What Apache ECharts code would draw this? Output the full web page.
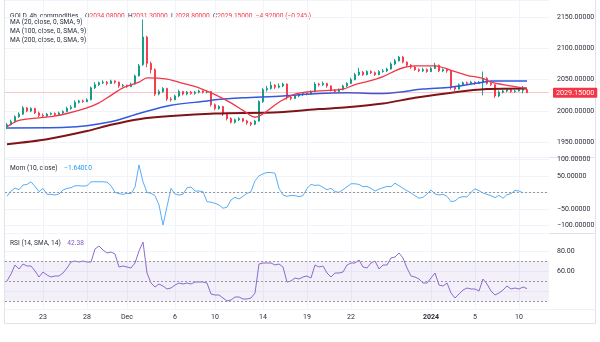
<!DOCTYPE html>
<html><head><meta charset="utf-8">
<script src="https://cdn.jsdelivr.net/npm/echarts@6/dist/echarts.min.js"></script>
<style>html,body{margin:0;padding:0;background:#fff}#c{width:600px;height:342px}</style>
</head><body><div id="c"></div>
<script>
// ---------- DATA ----------
// 4h candles: [open, close, low, high]
const candles = [
[1975,1978,1971,1981],[1978,1983,1977,1986],[1983,1991,1982,1993],[1991,1995,1989,1998],[1995,2005,1994,2008],
[2005,2000,1998,2006],[2000,2004,1998,2006],[2004,1997,1995,2005],[1997,1993,1990,1999],[1993,1992,1990,1996],
[1992,1995,1990,1997],[1995,1996,1993,1998],[1996,1994,1992,1998],[1994,1997,1993,1999],[1997,1999,1995,2001],
[1999,2004,1998,2007],[2004,2006,2002,2009],[2006,2014,2005,2017],[2014,2016,2012,2018],[2016,2015,2013,2018],
[2015,2018,2014,2020],[2018,2037,2017,2039],[2037,2042,2035,2046],[2042,2045,2040,2047],[2045,2046,2043,2049],
[2046,2044,2041,2048],[2044,2048,2043,2050],[2048,2046,2043,2049],[2046,2040,2037,2047],[2040,2041,2038,2043],
[2041,2039,2037,2042],[2039,2043,2038,2045],[2043,2056,2042,2058],[2056,2072,2055,2075],[2074,2118,2072,2146],
[2118,2076,2070,2120],[2076,2066,2060,2079],[2066,2027,2024,2068],[2027,2031,2025,2034],[2031,2036,2029,2038],
[2036,2019,2016,2037],[2019,2018,2015,2022],[2018,2024,2017,2026],[2024,2031,2022,2034],[2031,2027,2025,2032],
[2027,2030,2025,2032],[2030,2028,2026,2032],[2028,2030,2026,2032],[2030,2032,2028,2034],[2032,2030,2028,2033],
[2030,2031,2028,2033],[2031,2010,2007,2032],[2010,2004,2001,2012],[2004,2007,2002,2009],[2007,1995,1992,2008],
[1995,1988,1985,1997],[1988,1982,1980,1990],[1982,1986,1980,1988],[1986,1988,1984,1990],[1988,1984,1982,1989],
[1984,1981,1978,1986],[1981,1979,1976,1983],[1979,1984,1978,1986],[1984,2015,1983,2017],[2015,2034,2013,2037],
[2034,2036,2031,2040],[2036,2041,2034,2047],[2041,2038,2035,2043],[2038,2040,2036,2044],[2040,2043,2038,2045],
[2043,2022,2018,2044],[2022,2020,2017,2024],[2020,2024,2019,2026],[2024,2026,2022,2028],[2026,2028,2024,2030],
[2028,2027,2025,2030],[2027,2031,2026,2033],[2031,2043,2030,2046],[2043,2042,2039,2045],[2042,2044,2040,2047],
[2044,2040,2037,2045],[2040,2033,2031,2041],[2033,2031,2029,2035],[2031,2034,2030,2036],[2034,2040,2033,2042],
[2040,2044,2038,2046],[2044,2050,2043,2053],[2050,2058,2049,2061],[2058,2062,2056,2069],[2062,2058,2056,2064],
[2058,2063,2057,2065],[2063,2061,2059,2065],[2061,2058,2056,2063],[2058,2063,2057,2065],[2063,2064,2061,2067],
[2064,2067,2062,2069],[2067,2075,2066,2078],[2075,2080,2073,2083],[2080,2086,2079,2088],[2086,2078,2076,2088],
[2078,2073,2070,2079],[2073,2070,2067,2075],[2070,2066,2064,2072],[2066,2064,2062,2068],[2064,2066,2062,2069],
[2066,2063,2061,2068],[2063,2068,2062,2070],[2068,2073,2067,2077],[2073,2064,2062,2074],[2064,2066,2062,2068],
[2066,2064,2061,2067],[2064,2038,2034,2065],[2038,2035,2032,2040],[2035,2042,2034,2044],[2042,2045,2040,2047],
[2045,2044,2042,2047],[2044,2046,2043,2048],[2046,2044,2042,2047],[2044,2046,2043,2048],[2045,2052,2025,2063],
[2052,2044,2042,2054],[2044,2042,2040,2046],[2042,2024,2021,2043],[2024,2030,2022,2033],[2030,2032,2028,2034],
[2032,2034,2030,2036],[2034,2031,2029,2035],[2031,2032,2029,2034],[2032,2034,2031,2036],[2033,2034.08,2028,2040],
[2034.08,2029.15,2028.8,2035]
];
// moving averages: [bar index, value]
const ma20 = [[0,1975],[3,1985],[8,1989],[11,1991],[15,1996],[20,2005],[23,2013],[26,2025],[29,2037],[33,2046],[35,2053],[40,2051],[44,2044],[48,2037],[52,2026],[56,2013],[59,2001],[62,1990],[68,2014],[72,2027],[78,2032],[84,2035],[87,2042],[90,2047],[94,2055],[97,2064],[99,2069],[102,2072],[107,2072],[111,2065],[115,2057],[119,2052],[121,2046],[125,2041],[130,2036]];
const ma100 = [[0,1973],[15,1974],[26,1983],[33,1996],[41,2009],[50,2016],[52,2018],[59,2021],[69,2024],[78,2028],[85,2029],[94,2028],[98,2030],[104,2035],[111,2038],[119,2046],[121,2048],[130,2048]];
const ma200 = [[0,1947],[10,1955],[20,1968],[26,1978],[33,1987],[41,1992],[52,1996],[68,1998],[78,2003],[85,2006],[94,2012],[102,2021],[112,2030],[120,2035],[130,2036]];
// Momentum (10, close), one value per bar
const mom = [-12,4,13,8,22,24,32,18,2,12,-6,-6,-8,-5,7,12,14,20,20,19,20,32,32,32,32,31,20,0,-4,-6,-3,-4,16,83,32,0,-3,-10,-38,-99,-43,12,-5,-8,-6,14,16,4,4,2,
 -28,-30,-33,-38,-48,-45,-23,-15,-20,-12,-3,2,35,50,56,60,60,58,12,-8,-12,-9,-10,-13,-10,12,24,21,22,15,8,12,2,0,8,17,26,26,24,17,18,12,4,10,14,18,17,28,20,12,
 5,-2,-10,-18,-15,-5,7,-5,-8,-6,-12,-28,-26,-16,-13,-14,0,11,5,-2,-6,-10,-16,-9,-18,-7,-4,6,4,-1.64];
// RSI (14), one value per bar
const rsi = [50,57,66,62,67,65,65,60,54,59,56,54,55,55,58,63,69,70,69,70,69,69,82,85,81,78,79,77,64,65,64,63,68,80,89,58,48,44,47,45,42,43,46,48,47,48,47,49,49,49,
 48,37,36,36,33,30,31,34,34,32,32,33,38,67,68,68,68,66,67,64,49,50,53,52,54,55,53,66,64,65,58,54,58,58,59,66,68,68,71,64,63,68,70,62,66,66,73,74,78,73,
 63,55,54,52,48,48,53,58,46,45,48,38,33,37,41,43,42,42,40,52,47,40,36,38,41,45,42,43,42,44,42.38];
// time-axis tick labels (bar index -> text)
const tickIndex = [9,20,30,42,52,64,75,86,106,117,128];
const tickText  = ['23','28','Dec','6','10','14','19','22','2024','5','10'];
// legend texts
const symbolText = 'GOLD, 4h, commodities';
const ohlcNames = ['O','H','L','C'];
const ohlcValues = ['2034.08000','2031.30000','2028.80000','2029.15000'];
const changeText = '\u22124.92000 (\u22120.24%)';
const maNames = ['MA (20, close, 0, SMA, 9)','MA (100, close, 0, SMA, 9)','MA (200, close, 0, SMA, 9)'];
const momName = 'Mom (10, close)';
const rsiName = 'RSI (14, SMA, 14)';
const rsiBands = [70, 50, 30];

// ---------- CHART ----------
const N = 136; // number of bar slots incl. right margin
const cats = Array.from({length: N}, (_, i) => String(i));
const tickMap = {};
tickIndex.forEach((k, j) => tickMap[k] = tickText[j]);
const isTick = (i) => tickMap[i] !== undefined;
const lastClose = candles[candles.length - 1][1];
const lastMom = mom[mom.length - 1];
const lastRsi = rsi[rsi.length - 1];
const FONT = 'Roboto';
const FS = 6.6;
const txt = '#2a2e39';
const neg = (v, d) => (v < 0 ? '\u2212' : '') + Math.abs(v).toFixed(d);

const chart = echarts.init(document.getElementById('c'), null, {renderer: 'canvas'});
const gridL = 5, gridR = 51;
const grids = [
  {left: gridL, right: gridR, top: 0, height: 157},
  {left: gridL, right: gridR, top: 157, height: 76},
  {left: gridL, right: gridR, top: 233, height: 76}
];
function xAx(g, showLabels) {
  return {
    gridIndex: g, type: 'category', data: cats, boundaryGap: true,
    axisLine: {show: false}, axisTick: {show: false},
    axisLabel: showLabels ? {
      show: true, interval: (i) => isTick(i), fontSize: FS + 0.4, color: txt, fontFamily: FONT, margin: 5,
      formatter: (v, i) => { const t = tickMap[+v]; return t === '2024' ? '{b|2024}' : (t || ''); },
      rich: {b: {fontWeight: 'bold', fontSize: FS + 0.4, color: txt, fontFamily: FONT}}
    } : {show: false},
    splitLine: {show: true, interval: (i) => isTick(i), alignWithLabel: true, lineStyle: {color: '#f0f3fa', width: 1}}
  };
}
function yAx(g, min, max, split, fmt) {
  return {
    gridIndex: g, type: 'value', position: 'right', min: min, max: max, splitNumber: split, scale: true,
    axisLine: {show: false}, axisTick: {show: false},
    axisLabel: {fontSize: FS + 0.4, color: txt, fontFamily: FONT, margin: 8, showMinLabel: false, showMaxLabel: false, formatter: fmt},
    splitLine: {lineStyle: {color: '#f0f3fa', width: 1}}
  };
}
const badge = (bg, text) => ({
  show: true, position: 'end', distance: 4, formatter: text, backgroundColor: bg, color: '#fff',
  fontSize: FS + 0.6, fontFamily: FONT, padding: [2, 3, 1, 3], borderRadius: 1
});

const option = {
  animation: false,
  backgroundColor: '#fff',
  grid: grids,
  xAxis: [xAx(0, false), xAx(1, false), xAx(2, true)],
  yAxis: [
    yAx(0, 1926.6, 2177.1, 5, (v) => v.toFixed(5)),
    yAx(1, -123, 107, 5, (v) => v === 0 ? '' : neg(v, 5)),
    yAx(2, 22, 98, 4, (v) => v === 40 ? '' : v.toFixed(2))
  ],
  series: [
    {
      type: 'candlestick', xAxisIndex: 0, yAxisIndex: 0, data: candles, barWidth: 2.4,
      itemStyle: {color: '#089981', color0: '#f23645', borderColor: '#089981', borderColor0: '#f23645', borderWidth: 0.9},
      markLine: {
        silent: true, symbol: ['none', 'none'],
        lineStyle: {color: 'rgba(242,54,69,0.28)', type: 'solid', width: 1},
        label: badge('#f23645', lastClose.toFixed(5)),
        data: [{yAxis: lastClose}]
      }
    },
    {type: 'line', xAxisIndex: 0, yAxisIndex: 0, data: ma200, showSymbol: false, smooth: 0.3, lineStyle: {color: '#7f1418', width: 2}, z: 3},
    {type: 'line', xAxisIndex: 0, yAxisIndex: 0, data: ma100, showSymbol: false, smooth: 0.3, lineStyle: {color: '#3259e0', width: 1.5}, z: 3},
    {type: 'line', xAxisIndex: 0, yAxisIndex: 0, data: ma20, showSymbol: false, smooth: 0.3, lineStyle: {color: '#f23645', width: 1.3}, z: 4},
    {
      type: 'line', xAxisIndex: 1, yAxisIndex: 1, data: mom, showSymbol: false, lineStyle: {color: '#5aaef5', width: 1},
      markLine: {
        silent: true, symbol: ['none', 'none'],
        data: [
          {yAxis: 0, lineStyle: {color: '#9598a1', type: [2, 2], width: 1}, label: {show: false}},
          {yAxis: lastMom, lineStyle: {opacity: 0}, label: badge('#2196f3', neg(lastMom, 5))}
        ]
      }
    },
    {
      type: 'line', xAxisIndex: 2, yAxisIndex: 2, data: rsi, showSymbol: false, lineStyle: {color: '#8c6bd1', width: 1},
      markArea: {silent: true, itemStyle: {color: 'rgba(126,87,194,0.09)'}, data: [[{yAxis: rsiBands[2]}, {yAxis: rsiBands[0]}]]},
      markLine: {
        silent: true, symbol: ['none', 'none'],
        data: rsiBands.map(b => ({yAxis: b, lineStyle: {color: '#9598a1', type: [2, 2], width: 1}, label: {show: false}}))
          .concat([{yAxis: lastRsi, lineStyle: {opacity: 0}, label: badge('#7e57c2', lastRsi.toFixed(2))}])
      }
    }
  ],
  graphic: [
    {type: 'line', shape: {x1: 4.5, y1: 0, x2: 4.5, y2: 323.5}, style: {stroke: '#e0e3eb', lineWidth: 1}, silent: true},
    {type: 'line', shape: {x1: 595.5, y1: 0, x2: 595.5, y2: 323.5}, style: {stroke: '#e0e3eb', lineWidth: 1}, silent: true},
    {type: 'line', shape: {x1: 4.5, y1: 157.5, x2: 595.5, y2: 157.5}, style: {stroke: '#e0e3eb', lineWidth: 1}, silent: true},
    {type: 'line', shape: {x1: 4.5, y1: 233.5, x2: 595.5, y2: 233.5}, style: {stroke: '#e0e3eb', lineWidth: 1}, silent: true},
    {type: 'line', shape: {x1: 4.5, y1: 309.5, x2: 595.5, y2: 309.5}, style: {stroke: '#eef0f5', lineWidth: 1}, silent: true},
    {type: 'line', shape: {x1: 4.5, y1: 323.5, x2: 595.5, y2: 323.5}, style: {stroke: '#e0e3eb', lineWidth: 1}, silent: true},
    {
      type: 'text', left: 10, top: 10, silent: true,
      style: {
        text: '{t|' + symbolText + '}  ' + ohlcNames.map((n, i) => '{t|' + n + '}{r|' + ohlcValues[i] + '}').join(' ') + ' {r|' + changeText + '}',
        rich: {t: {fill: txt, fontSize: FS, fontFamily: FONT}, r: {fill: '#f23645', fontSize: FS, fontFamily: FONT}}
      }
    },
    ...maNames.map((m, i) => ({type: 'text', left: 10, top: 19 + i * 8.7, silent: true, style: {text: m, fill: txt, fontSize: FS, fontFamily: FONT}})),
    {
      type: 'text', left: 10, top: 162, silent: true,
      style: {text: '{t|' + momName + '}  {v|' + neg(lastMom, 5) + '}',
        rich: {t: {fill: txt, fontSize: FS, fontFamily: FONT}, v: {fill: '#2196f3', fontSize: FS, fontFamily: FONT}}}
    },
    {
      type: 'text', left: 10, top: 237, silent: true,
      style: {text: '{t|' + rsiName + '}  {v|' + lastRsi.toFixed(2) + '}',
        rich: {t: {fill: txt, fontSize: FS, fontFamily: FONT}, v: {fill: '#7e57c2', fontSize: FS, fontFamily: FONT}}}
    }
  ]
};
chart.setOption(option);
</script>
</body></html>
